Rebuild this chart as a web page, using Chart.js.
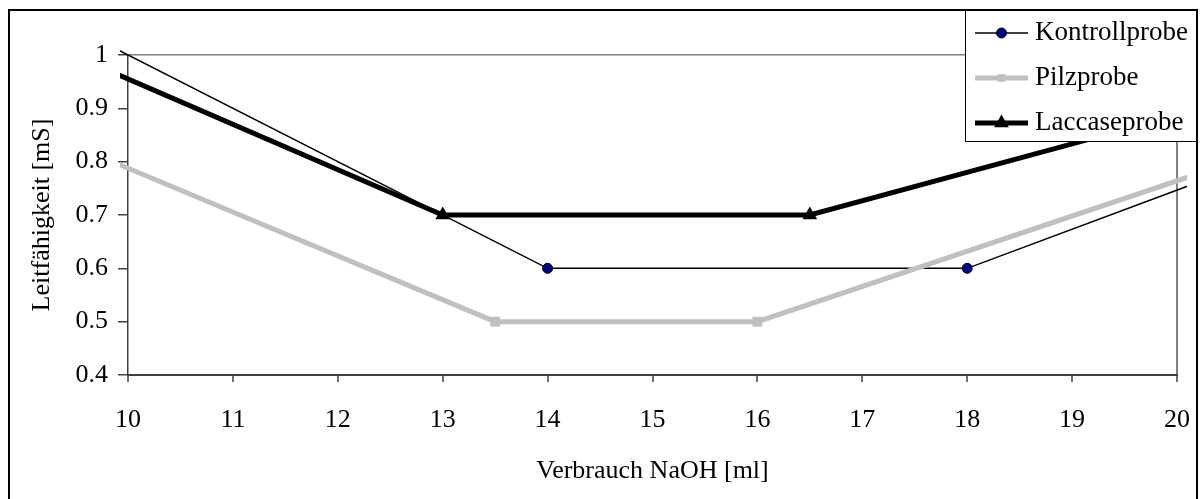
<!DOCTYPE html>
<html>
<head>
<meta charset="utf-8">
<script src="https://cdn.jsdelivr.net/npm/chart.js@4/dist/chart.umd.min.js"></script>
<style>
  html, body { margin: 0; padding: 0; background: #ffffff; }
  #c { display: block; }
</style>
</head>
<body>
<canvas id="c" width="1202" height="499"></canvas>
<script>
// Titration: conductivity against NaOH consumption for three samples
const kontrollX = [9, 14, 18, 21];
const kontrollY = [1.1, 0.6, 0.6, 0.82];

const pilzX = [9, 13.5, 16, 21];
const pilzY = [0.87, 0.5, 0.5, 0.83];

const laccaseX = [9, 13, 16.5, 21];
const laccaseY = [1.04, 0.7, 0.7, 0.94];

const seriesNames = ['Kontrollprobe', 'Pilzprobe', 'Laccaseprobe'];
const xTickLabels = ['10', '11', '12', '13', '14', '15', '16', '17', '18', '19', '20'];
const yTickLabels = ['0.4', '0.5', '0.6', '0.7', '0.8', '0.9', '1'];
const xTitle = 'Verbrauch NaOH [ml]';
const yTitle = 'Leitfähigkeit [mS]';

const FONT = "'Liberation Serif', 'Times New Roman', serif";
const FSIZE = 26;
const LEGEND_FSIZE = 27;

function toPoints(xs, ys) {
  return xs.map((x, i) => ({ x: x, y: ys[i] }));
}

const clipBox = { left: 8, top: 6, right: 10, bottom: 6 };

const datasets = [
  {
    label: seriesNames[0],
    data: toPoints(kontrollX, kontrollY),
    borderColor: '#000000',
    borderWidth: 1.5,
    pointStyle: 'circle',
    pointRadius: 5,
    pointBackgroundColor: '#000080',
    pointBorderColor: '#000000',
    pointBorderWidth: 1,
    order: 3
  },
  {
    label: seriesNames[1],
    data: toPoints(pilzX, pilzY),
    borderColor: '#c0c0c0',
    borderWidth: 5,
    pointStyle: 'rect',
    pointRadius: 7,
    pointBackgroundColor: '#c0c0c0',
    pointBorderColor: '#c0c0c0',
    pointBorderWidth: 0,
    order: 2
  },
  {
    label: seriesNames[2],
    data: toPoints(laccaseX, laccaseY),
    borderColor: '#000000',
    borderWidth: 5,
    pointStyle: 'triangle',
    pointRadius: 8.5,
    pointBackgroundColor: '#000000',
    pointBorderColor: '#000000',
    pointBorderWidth: 0,
    order: 1
  }
].map(d => Object.assign({
  showLine: true,
  fill: false,
  tension: 0,
  clip: clipBox,
  pointHoverRadius: d.pointRadius
}, d));

// White page with the black outer frame
const framePlugin = {
  id: 'frame',
  beforeDraw(chart) {
    const ctx = chart.ctx;
    ctx.save();
    ctx.fillStyle = '#ffffff';
    ctx.fillRect(0, 0, chart.width, chart.height);
    ctx.strokeStyle = '#000000';
    ctx.lineWidth = 2;
    ctx.strokeRect(9, 10, chart.width - 14, chart.height + 10);
    ctx.restore();
  }
};

// Boxed legend sitting in the upper right corner over the plot
const boxLegendPlugin = {
  id: 'boxLegend',
  afterDraw(chart) {
    const ctx = chart.ctx;
    const box = { left: 965, top: 10, right: chart.width - 5, bottom: 142 };
    ctx.save();
    ctx.fillStyle = '#ffffff';
    ctx.fillRect(box.left, box.top, box.right - box.left, box.bottom - box.top);
    ctx.strokeStyle = '#000000';
    ctx.lineWidth = 1;
    ctx.strokeRect(box.left + 0.5, box.top + 0.5, box.right - box.left - 1, box.bottom - box.top - 1);

    const rowGap = 45;
    chart.data.datasets.forEach((ds, i) => {
      const y = box.top + 23 + rowGap * i;
      const x0 = box.left + 10, x1 = box.left + 63;
      ctx.strokeStyle = ds.borderColor;
      ctx.lineWidth = ds.borderWidth;
      ctx.beginPath();
      ctx.moveTo(x0, y);
      ctx.lineTo(x1, y);
      ctx.stroke();
      ctx.fillStyle = ds.pointBackgroundColor;
      ctx.strokeStyle = ds.pointBorderColor;
      ctx.lineWidth = ds.pointBorderWidth;
      Chart.helpers.drawPoint(ctx, {
        pointStyle: ds.pointStyle,
        radius: ds.pointStyle === 'rect' ? 5.5 : ds.pointRadius,
        rotation: 0,
        borderWidth: ds.pointBorderWidth
      }, (x0 + x1) / 2, y);
      ctx.fillStyle = '#000000';
      ctx.font = LEGEND_FSIZE + 'px ' + FONT;
      ctx.textAlign = 'left';
      ctx.textBaseline = 'middle';
      ctx.fillText(ds.label, box.left + 70, y);
    });
    ctx.restore();
  }
};

new Chart(document.getElementById('c'), {
  type: 'scatter',
  data: { datasets: datasets },
  options: {
    responsive: false,
    devicePixelRatio: 1,
    animation: false,
    events: [],
    layout: { padding: { left: 0, top: 55, right: 25, bottom: 0 } },
    plugins: {
      legend: { display: false },
      tooltip: { enabled: false }
    },
    scales: {
      x: {
        type: 'linear',
        min: 10,
        max: 20,
        afterFit(scale) {
          scale.height = 124;
          scale.paddingLeft = 0;
          scale.paddingRight = 0;
        },
        ticks: {
          stepSize: 1,
          padding: 23,
          color: '#000000',
          font: { family: FONT, size: FSIZE },
          maxRotation: 0,
          autoSkip: false,
          callback: (v, i) => xTickLabels[i]
        },
        grid: {
          drawOnChartArea: true,
          color: ctx => (ctx.tick && ctx.tick.value >= 19.999) ? '#808080' : 'rgba(0,0,0,0)',
          lineWidth: 2,
          tickColor: '#404040',
          tickLength: 7,
          tickWidth: 1.5
        },
        border: { color: '#404040', width: 2 },
        title: {
          display: true,
          text: xTitle,
          color: '#000000',
          font: { family: FONT, size: FSIZE },
          padding: { top: 0, bottom: 12 }
        }
      },
      y: {
        type: 'linear',
        min: 0.4,
        max: 1,
        afterFit(scale) {
          scale.width = 128;
          scale.paddingTop = 0;
          scale.paddingBottom = 0;
        },
        ticks: {
          stepSize: 0.1,
          padding: 10,
          color: '#000000',
          font: { family: FONT, size: FSIZE },
          callback: (v, i) => yTickLabels[i]
        },
        grid: {
          drawOnChartArea: true,
          color: ctx => (ctx.tick && ctx.tick.value >= 0.999) ? '#808080' : 'rgba(0,0,0,0)',
          lineWidth: 1.5,
          tickColor: '#404040',
          tickLength: 10,
          tickWidth: 1.5
        },
        border: { color: '#404040', width: 1.5 },
        title: {
          display: true,
          text: yTitle,
          color: '#000000',
          font: { family: FONT, size: FSIZE },
          padding: { top: 27, bottom: 0 }
        }
      }
    }
  },
  plugins: [framePlugin, boxLegendPlugin]
});
</script>
</body>
</html>
